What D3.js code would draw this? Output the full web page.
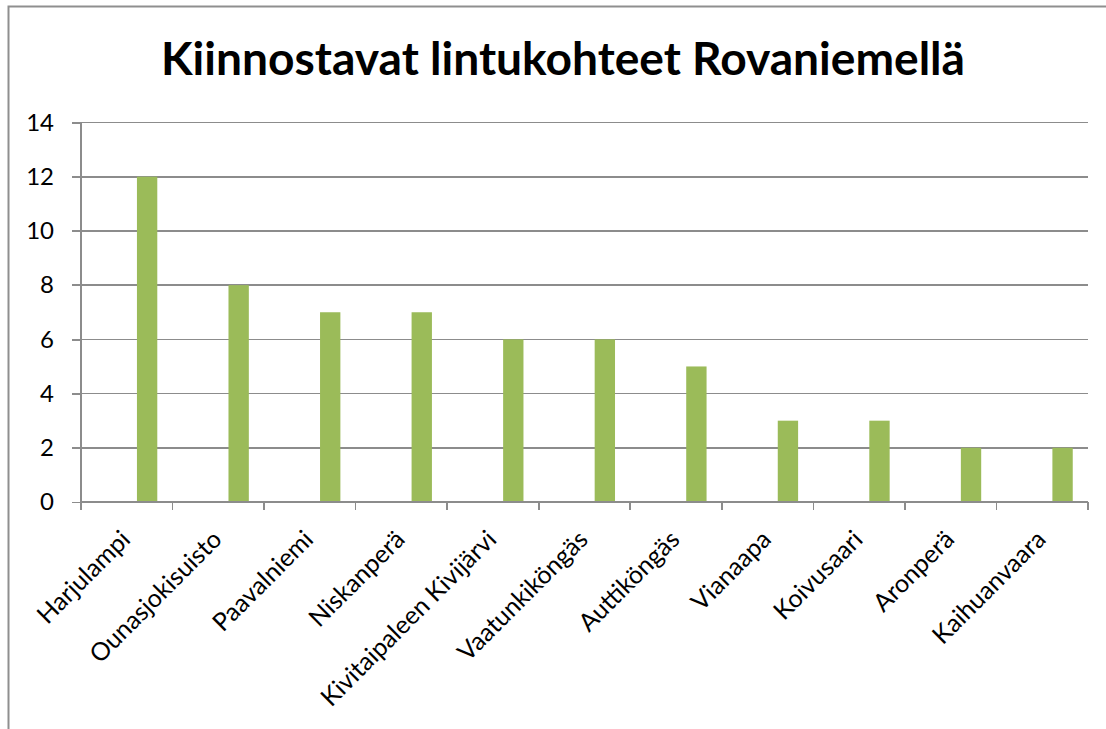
<!DOCTYPE html>
<meta charset="utf-8">
<head>
  <meta charset="UTF-8">
</head>

<style>

body {
  margin: 0;
  background: #fff;
  font-family: Lato, "Open Sans", sans-serif;
}

.axis path,
.axis line {
  fill: none;
  stroke: #8c8c8c;
  stroke-width: 1.6px;
  shape-rendering: crispEdges;
}

.grid line {
  stroke: #8c8c8c;
  stroke-width: 1.6px;
  shape-rendering: crispEdges;
}

.bar {
  fill: #9bbb59;
}

</style>
<body>
<script src="https://d3js.org/d3.v7.min.js"></script>
<script type="text/javascript">

// --------------------------- data --------------------------
var title = "Kiinnostavat lintukohteet Rovaniemellä";

var categories = ["Harjulampi", "Ounasjokisuisto", "Paavalniemi", "Niskanperä",
  "Kivitaipaleen Kivijärvi", "Vaatunkiköngäs", "Auttiköngäs", "Vianaapa",
  "Koivusaari", "Aronperä", "Kaihuanvaara"];

var values = [12, 8, 7, 7, 6, 6, 5, 3, 3, 2, 2];

// excel had three series slots, only the third one is filled
var seriesSlots = ["s1", "s2", "s3"];

var yTicks = [0, 2, 4, 6, 8, 10, 12, 14];

// --------------------------- layout --------------------------
var W = 1106, H = 729;
var margin = {top: 122.5, left: 81, right: 1106 - 1088, bottom: 729 - 502};
var width = W - margin.left - margin.right,
    height = H - margin.top - margin.bottom;
var labelSize = 25;

var svg = d3.select("body").append("svg")
    .attr("width", W)
    .attr("height", H);

// outer frame (only left and top edges are visible)
svg.append("path")
    .attr("d", "M8.5," + (H + 5) + "V6.5H" + (W + 5))
    .attr("fill", "none")
    .attr("stroke", "#8f8f8f")
    .attr("stroke-width", 2);

svg.append("text")
    .attr("x", 563)
    .attr("y", 75)
    .attr("text-anchor", "middle")
    .attr("font-size", 46)
    .attr("font-weight", "bold")
    .attr("textLength", 804)
    .attr("lengthAdjust", "spacingAndGlyphs")
    .text(title);

var g = svg.append("g")
    .attr("transform", "translate(" + margin.left + "," + margin.top + ")");

var x = d3.scaleBand()
    .domain(categories)
    .range([0, width])
    .paddingInner(0)
    .paddingOuter(0);

// gap width 150% -> each slot is band / (3 + 1.5)
var slotW = x.bandwidth() / 4.5;
var xs = d3.scaleBand()
    .domain(seriesSlots)
    .range([0.75 * slotW, 3.75 * slotW]);

var y = d3.scaleLinear()
    .domain([0, 14])
    .range([height, 0]);

// gridlines
g.append("g")
    .attr("class", "grid")
  .selectAll("line")
  .data(yTicks.filter(function(d) { return d > 0; }))
  .enter().append("line")
    .attr("x1", -9)
    .attr("x2", width)
    .attr("y1", function(d) { return y(d); })
    .attr("y2", function(d) { return y(d); });

// bars
g.selectAll(".bar")
    .data(values)
  .enter().append("rect")
    .attr("class", "bar")
    .attr("x", function(d, i) { return x(categories[i]) + xs("s3"); })
    .attr("width", xs.bandwidth())
    .attr("y", function(d) { return y(d); })
    .attr("height", function(d) { return height - y(d); });

// y axis
var yAxis = g.append("g")
    .attr("class", "axis y")
    .call(d3.axisLeft(y).tickValues(yTicks).tickSize(9).tickSizeOuter(0).tickPadding(18));
yAxis.select(".domain").attr("d", "M0,0V" + (height + 8));
yAxis.selectAll("text")
    .attr("font-size", 24)
    .attr("font-family", "Lato, sans-serif")
    .attr("fill", "#000");

// x axis: ticks on category boundaries
var xAxis = g.append("g")
    .attr("class", "axis x")
    .attr("transform", "translate(0," + height + ")");

xAxis.append("path")
    .attr("class", "domain")
    .attr("d", "M0,0H" + width);

xAxis.selectAll(".tick")
    .data(categories.concat(["end"]))
  .enter().append("line")
    .attr("x1", function(d, i) { return i * x.step(); })
    .attr("x2", function(d, i) { return i * x.step(); })
    .attr("y1", 0)
    .attr("y2", 8);

xAxis.selectAll(".lbl")
    .data(categories)
  .enter().append("text")
    .attr("class", "lbl")
    .attr("text-anchor", "end")
    .attr("font-size", labelSize)
    .attr("font-family", "Lato, sans-serif")
    .attr("fill", "#000")
    .attr("transform", function(d) {
      return "translate(" + (x(d) + x.bandwidth() / 2 + 5) + ",39) rotate(-45)";
    })
    .text(function(d) { return d; });

</script>
